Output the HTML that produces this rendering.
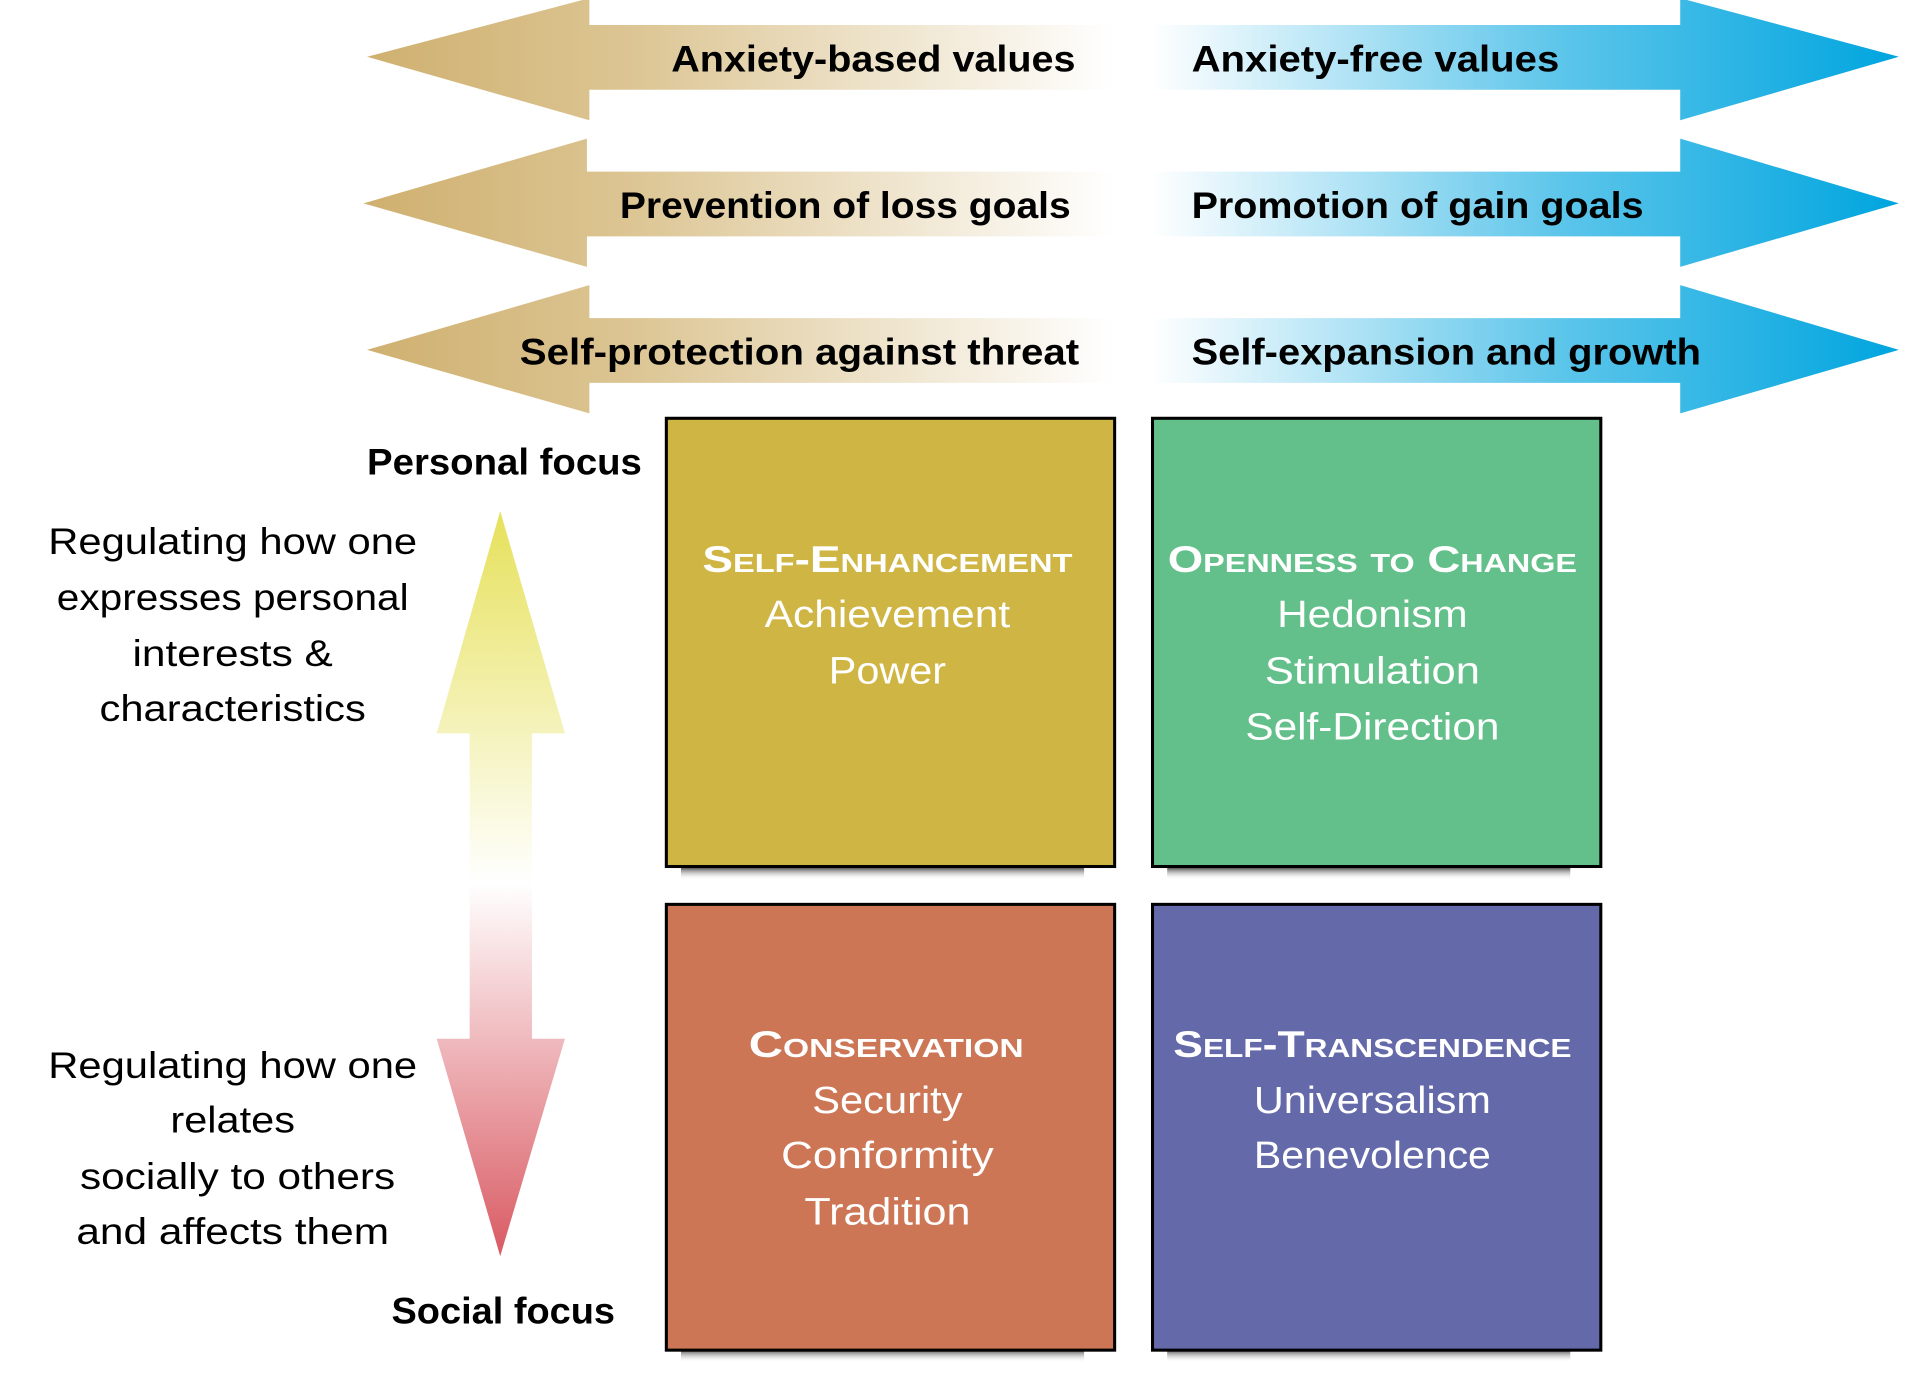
<!DOCTYPE html>
<html><head><meta charset="utf-8"><style>
html,body{margin:0;padding:0;background:#fff;}
svg{display:block;}
text{font-family:"Liberation Sans",sans-serif;}
</style></head><body>
<svg width="1915" height="1383" viewBox="0 0 1563 1129" preserveAspectRatio="none" xmlns="http://www.w3.org/2000/svg">
<defs>
<linearGradient id="gl" x1="303" y1="0" x2="915" y2="0" gradientUnits="userSpaceOnUse">
<stop offset="0" stop-color="#cfb070"/><stop offset="0.35" stop-color="#dcc593"/><stop offset="1" stop-color="#ffffff"/></linearGradient>
<linearGradient id="gr" x1="945" y1="0" x2="1557" y2="0" gradientUnits="userSpaceOnUse">
<stop offset="0" stop-color="#ffffff"/><stop offset="0.55" stop-color="#5cc5ea"/><stop offset="1" stop-color="#00a5df"/></linearGradient>
<linearGradient id="gv" x1="0" y1="420" x2="0" y2="1030" gradientUnits="userSpaceOnUse">
<stop offset="0" stop-color="#e6e15a"/><stop offset="0.5" stop-color="#ffffff"/><stop offset="1" stop-color="#d95a63"/></linearGradient>
<linearGradient id="sh" x1="0" y1="0" x2="0" y2="1"><stop offset="0" stop-color="#555"/><stop offset="1" stop-color="#fff" stop-opacity="0"/></linearGradient>
</defs>
<g transform="translate(-2.5,-1.5) scale(0.997)">
<polygon points="303,48 485,0 485,22 915,22 915,75 485,75 485,100" fill="url(#gl)"/>
<polygon points="300,168 483,115 483,142 913,142 913,195 483,195 483,220" fill="url(#gl)"/>
<polygon points="303,288 485,235 485,262 915,262 915,315 485,315 485,340" fill="url(#gl)"/>
<polygon points="1557,48 1378,0 1378,22 945,22 945,75 1378,75 1378,100" fill="url(#gr)"/>
<polygon points="1557,168 1378,115 1378,142 945,142 945,195 1378,195 1378,220" fill="url(#gr)"/>
<polygon points="1557,288 1378,235 1378,262 945,262 945,315 1378,315 1378,340" fill="url(#gr)"/>
<g font-weight="bold" font-size="30" fill="#000">
<text x="552" y="60" textLength="331" lengthAdjust="spacingAndGlyphs">Anxiety-based values</text>
<text x="978" y="60" textLength="301" lengthAdjust="spacingAndGlyphs">Anxiety-free values</text>
<text x="510" y="180" textLength="369" lengthAdjust="spacingAndGlyphs">Prevention of loss goals</text>
<text x="978" y="180" textLength="370" lengthAdjust="spacingAndGlyphs">Promotion of gain goals</text>
<text x="428" y="300" textLength="458" lengthAdjust="spacingAndGlyphs">Self-protection against threat</text>
<text x="978" y="300" textLength="417" lengthAdjust="spacingAndGlyphs">Self-expansion and growth</text>
<text x="303" y="390" textLength="225" lengthAdjust="spacingAndGlyphs">Personal focus</text>
<text x="323" y="1085" textLength="183" lengthAdjust="spacingAndGlyphs">Social focus</text>
</g>
<polygon points="412,420 465,602 438,602 438,852 465,852 412,1030 360,852 387,852 387,602 360,602" fill="url(#gv)"/>
<g font-size="30" fill="#000" text-anchor="middle">
<text x="193" y="455" textLength="302" lengthAdjust="spacingAndGlyphs">Regulating how one</text>
<text x="193" y="501" textLength="288" lengthAdjust="spacingAndGlyphs">expresses personal</text>
<text x="193" y="547" textLength="164" lengthAdjust="spacingAndGlyphs">interests &amp;</text>
<text x="193" y="592" textLength="218" lengthAdjust="spacingAndGlyphs">characteristics</text>
<text x="193" y="884" textLength="302" lengthAdjust="spacingAndGlyphs">Regulating how one</text>
<text x="193" y="929" textLength="102" lengthAdjust="spacingAndGlyphs">relates</text>
<text x="197" y="975" textLength="258" lengthAdjust="spacingAndGlyphs">socially to others</text>
<text x="193" y="1020" textLength="256" lengthAdjust="spacingAndGlyphs">and affects them</text>
</g>
<rect x="560" y="712" width="330" height="10" fill="url(#sh)"/>
<rect x="958" y="712" width="330" height="10" fill="url(#sh)"/>
<rect x="560" y="1107" width="330" height="10" fill="url(#sh)"/>
<rect x="958" y="1107" width="330" height="10" fill="url(#sh)"/>
<rect x="548" y="344" width="367" height="367" fill="#cfb543" stroke="#000" stroke-width="2.5"/>
<rect x="946" y="344" width="367" height="367" fill="#63c08a" stroke="#000" stroke-width="2.5"/>
<rect x="548" y="742" width="367" height="365" fill="#cc7655" stroke="#000" stroke-width="2.5"/>
<rect x="946" y="742" width="367" height="365" fill="#6469a9" stroke="#000" stroke-width="2.5"/>
<g fill="#fff" text-anchor="middle">
<g font-weight="bold" font-size="30" style="font-variant:small-caps">
<text x="729" y="470" textLength="303" lengthAdjust="spacingAndGlyphs">Self-Enhancement</text>
<text x="1126" y="470" textLength="335" lengthAdjust="spacingAndGlyphs">Openness to Change</text>
<text x="728" y="867" textLength="225" lengthAdjust="spacingAndGlyphs">Conservation</text>
<text x="1126" y="867" textLength="326" lengthAdjust="spacingAndGlyphs">Self-Transcendence</text>
</g>
<g font-size="31">
<text x="729" y="515" textLength="201" lengthAdjust="spacingAndGlyphs">Achievement</text>
<text x="729" y="561" textLength="96" lengthAdjust="spacingAndGlyphs">Power</text>
<text x="1126" y="515" textLength="156" lengthAdjust="spacingAndGlyphs">Hedonism</text>
<text x="1126" y="561" textLength="176" lengthAdjust="spacingAndGlyphs">Stimulation</text>
<text x="1126" y="607" textLength="208" lengthAdjust="spacingAndGlyphs">Self-Direction</text>
<text x="729" y="913" textLength="123" lengthAdjust="spacingAndGlyphs">Security</text>
<text x="729" y="958" textLength="174" lengthAdjust="spacingAndGlyphs">Conformity</text>
<text x="729" y="1004" textLength="136" lengthAdjust="spacingAndGlyphs">Tradition</text>
<text x="1126" y="913" textLength="194" lengthAdjust="spacingAndGlyphs">Universalism</text>
<text x="1126" y="958" textLength="194" lengthAdjust="spacingAndGlyphs">Benevolence</text>
</g>
</g>
</g>
</svg>
</body></html>
